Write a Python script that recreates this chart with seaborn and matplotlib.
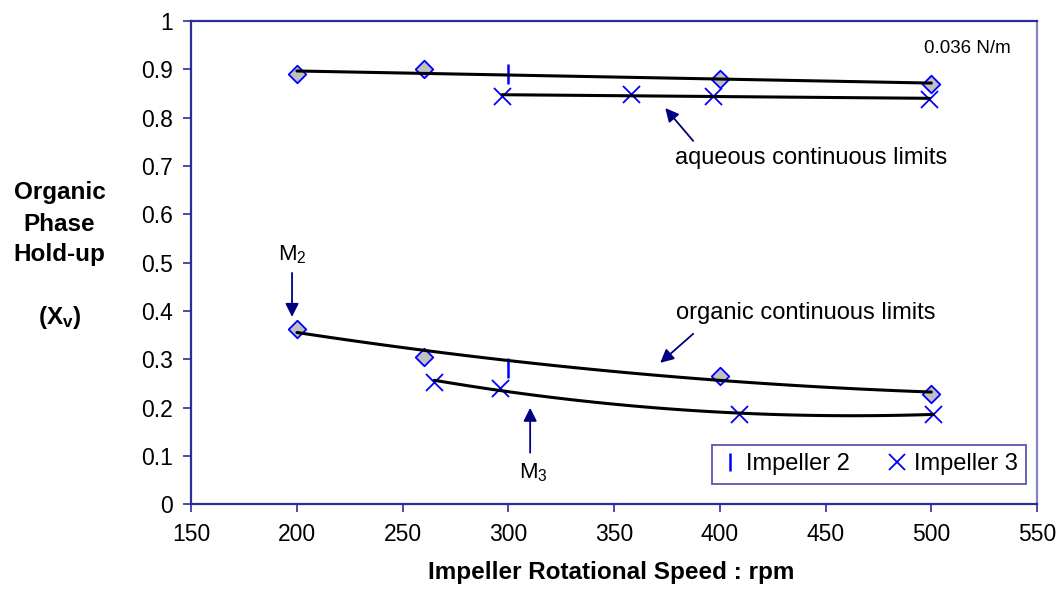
import numpy as np
import matplotlib
matplotlib.use('Agg')
import matplotlib.pyplot as plt
from matplotlib.lines import Line2D
import seaborn as sns

# DATA
rpm_diam_upper = [200, 260, 400, 500]
hold_diam_upper = [0.89, 0.90, 0.88, 0.87]
rpm_diam_lower = [200, 260, 400, 500]
hold_diam_lower = [0.363, 0.306, 0.266, 0.229]
rpm_imp2 = [300, 300]
hold_imp2 = [0.89, 0.282]
rpm_imp3_upper = [297, 358, 397, 499]
hold_imp3_upper = [0.845, 0.849, 0.844, 0.839]
rpm_imp3_lower = [265, 296, 409, 501]
hold_imp3_lower = [0.254, 0.240, 0.187, 0.187]
x_ticks = [150, 200, 250, 300, 350, 400, 450, 500, 550]
y_ticks = [0, 0.1, 0.2, 0.3, 0.4, 0.5, 0.6, 0.7, 0.8, 0.9, 1]

# STYLING
sns.set_theme(style='white')
plt.rcParams['font.family'] = ['Liberation Sans', 'DejaVu Sans']
plt.rcParams['mathtext.fontset'] = 'custom'
plt.rcParams['mathtext.rm'] = 'Liberation Sans'
plt.rcParams['mathtext.bf'] = 'Liberation Sans:bold'
plt.rcParams['mathtext.default'] = 'regular'
plt.rcParams['text.color'] = 'black'
plt.rcParams['axes.labelcolor'] = 'black'
plt.rcParams['xtick.color'] = 'black'
plt.rcParams['ytick.color'] = 'black'

NAVY = '#2e2e9a'
BLUE = '#0000ff'
ARROW = '#000080'

fig = plt.figure(figsize=(10.62, 6.01), dpi=100)
ax = fig.add_axes([0.180, 0.1606, 0.7965, 0.8044])


def trend(x, y, deg):
    coef = np.polyfit(x, y, deg)
    xs = np.linspace(min(x), max(x), 100)
    return xs, np.polyval(coef, xs)


# markers
sns.scatterplot(x=rpm_diam_upper + rpm_diam_lower, y=hold_diam_upper + hold_diam_lower,
                marker='D', s=80, color='#c0c0c0', edgecolor=BLUE, linewidth=1.3,
                ax=ax, zorder=2)
sns.scatterplot(x=rpm_imp2, y=hold_imp2, marker='|', s=190, color=BLUE,
                linewidth=1.8, ax=ax, zorder=2)
sns.scatterplot(x=rpm_imp3_upper + rpm_imp3_lower, y=hold_imp3_upper + hold_imp3_lower,
                marker='x', s=150, color=BLUE, linewidth=1.3, ax=ax, zorder=2)

# trendlines
for xs, ys, deg in [(rpm_diam_upper, hold_diam_upper, 1),
                    (rpm_imp3_upper, hold_imp3_upper, 1),
                    (rpm_diam_lower, hold_diam_lower, 2),
                    (rpm_imp3_lower, hold_imp3_lower, 2)]:
    tx, ty = trend(xs, ys, deg)
    sns.lineplot(x=tx, y=ty, color='black', linewidth=2.2, ax=ax, zorder=3,
                 sort=False, estimator=None)

ax.set_xlim(150, 550)
ax.set_ylim(0, 1)
ax.set_xticks(x_ticks)
ax.set_xticklabels([str(v) for v in x_ticks])
ax.set_yticks(y_ticks)
ax.set_yticklabels(['0' if v == 0 else ('1' if v == 1 else f'{v:g}') for v in y_ticks])
ax.tick_params(axis='both', which='both', direction='out', length=6, width=1.2,
               color=NAVY, labelsize=16.5, labelcolor='black', pad=7,
               bottom=True, left=True)
ax.set_xlabel('')
ax.set_ylabel('')
for side in ['left', 'bottom', 'top']:
    ax.spines[side].set_color(NAVY)
    ax.spines[side].set_linewidth(1.6)
ax.spines['right'].set_color('#8585c8')
ax.spines['right'].set_linewidth(1.6)

# annotations
arrow_kw = dict(arrowstyle='-|>', color=ARROW, lw=1.3, mutation_scale=20,
                shrinkA=0, shrinkB=0)
ax.annotate('', xy=(374.2, 0.820), xytext=(387.4, 0.752), arrowprops=arrow_kw)
ax.annotate('', xy=(371.8, 0.293), xytext=(387.4, 0.353), arrowprops=arrow_kw)
ax.annotate('', xy=(197.7, 0.388), xytext=(197.7, 0.479), arrowprops=arrow_kw)
ax.annotate('', xy=(310.3, 0.200), xytext=(310.3, 0.107), arrowprops=arrow_kw)

ax.text(443.3, 0.717, 'aqueous continuous limits', fontsize=17, ha='center', va='center')
ax.text(440.4, 0.396, 'organic continuous limits', fontsize=17, ha='center', va='center')
ax.text(517.2, 0.944, '0.036 N/m', fontsize=13.5, ha='center', va='center')
ax.text(197.7, 0.516, 'M$_2$', fontsize=16, ha='center', va='center')
ax.text(311.6, 0.065, 'M$_3$', fontsize=16, ha='center', va='center')

# legend
handles = [Line2D([], [], linestyle='none', marker='|', markersize=13, color=BLUE,
                  markeredgewidth=1.8),
           Line2D([], [], linestyle='none', marker='x', markersize=12, color=BLUE,
                  markeredgewidth=1.3)]
leg = ax.legend(handles, ['Impeller 2', 'Impeller 3'], ncol=2, loc='lower right',
                bbox_to_anchor=(0.987, 0.043), borderaxespad=0, fontsize=17,
                frameon=True, fancybox=False, handlelength=0.8, handletextpad=0.3,
                columnspacing=1.6, borderpad=0.35)
leg.get_frame().set_edgecolor(NAVY)
leg.get_frame().set_linewidth(1.3)

# axis titles
for txt, y in [('Organic', 0.679), ('Phase', 0.627), ('Hold-up', 0.576),
               ('(X$_{\\mathbf{v}}$)', 0.471)]:
    fig.text(0.056, y, txt, fontsize=17.5, fontweight='bold', ha='center', va='center')
fig.text(0.5755, 0.047, 'Impeller Rotational Speed : rpm', fontsize=17.5,
         fontweight='bold', ha='center', va='center')

fig.savefig('out.png', dpi=100)
